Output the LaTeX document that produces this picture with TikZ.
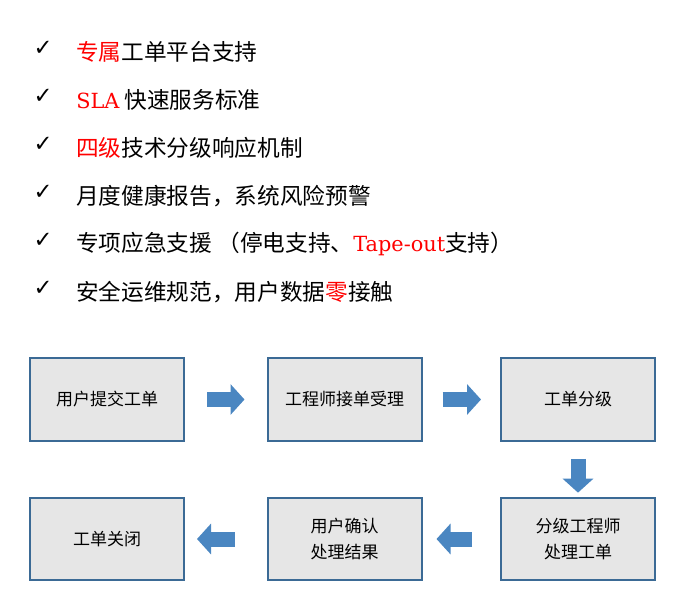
\documentclass[tikz,border=0pt]{standalone}
\usepackage{fontspec}
\setmainfont{Noto Sans CJK SC}
\newfontfamily\latfont[Scale=0.92]{DejaVu Serif}
\newfontfamily\symfont{DejaVu Sans}
\usetikzlibrary{arrows.meta}
\definecolor{boxgray}{RGB}{230,230,230}
\definecolor{boxblue}{RGB}{59,106,149}
\definecolor{arrowblue}{RGB}{74,134,193}
\definecolor{hot}{RGB}{255,0,0}

\begin{document}
\begin{tikzpicture}[x=0.75pt, y=-0.75pt,
  item/.style={anchor=west, inner sep=0pt, font=\fontsize{17pt}{20pt}\selectfont},
  tick/.style={anchor=center, inner sep=0pt, font=\symfont\fontsize{17pt}{20pt}\selectfont},
  stepbox/.style={draw=boxblue, line width=1.5pt, fill=boxgray, minimum width=115.5pt,
    minimum height=62pt, align=center, font=\fontsize{12.75pt}{19pt}\selectfont},
  flow/.style={arrowblue, line width=11.25pt, -{Triangle[width=22.5pt, length=10.5pt]}}]
  \useasboundingbox (0,0) rectangle (699,610);

  % feature list
  \foreach \y in {48,96,144,192,240,288}
    \node[tick] at (43,\y) {✓};
  \node[item] (l1) at (76,52) {\textcolor{hot}{专属}工单平台支持};
  \node[item] (l2) at (76,100) {\textcolor{hot}{\latfont SLA} 快速服务标准};
  \node[item] (l3) at (76,148) {\textcolor{hot}{四级}技术分级响应机制};
  \node[item] (l4) at (76,196) {月度健康报告，系统风险预警};
  \node[item] (l5) at (76,244) {专项应急支援 （停电支持、\textcolor{hot}{\latfont Tape-out}支持）};
  \node[item] (l6) at (76,292) {安全运维规范，用户数据\textcolor{hot}{零}接触};

  % ticket flow
  \node[stepbox] (submit) at (107,399.5) {用户提交工单};
  \node[stepbox] (accept) at (344.5,399.5) {工程师接单受理};
  \node[stepbox] (grade) at (578,399.5) {工单分级};
  \node[stepbox] (handle) at (578,539) {分级工程师\\处理工单};
  \node[stepbox] (confirm) at (344.5,539) {用户确认\\处理结果};
  \node[stepbox] (close) at (107,539) {工单关闭};

  \draw[flow, shorten <=16.5pt, shorten >=16.5pt] (submit.east) -- (accept.west);
  \draw[flow, shorten <=15pt, shorten >=14.25pt] (accept.east) -- (grade.west);
  \draw[flow, shorten <=12.75pt, shorten >=3pt] (grade.south) -- (handle.north);
  \draw[flow, shorten <=21pt, shorten >=10.5pt] (handle.west) -- (confirm.east);
  \draw[flow, shorten <=24pt, shorten >=9pt] (confirm.west) -- (close.east);
\end{tikzpicture}
\end{document}
